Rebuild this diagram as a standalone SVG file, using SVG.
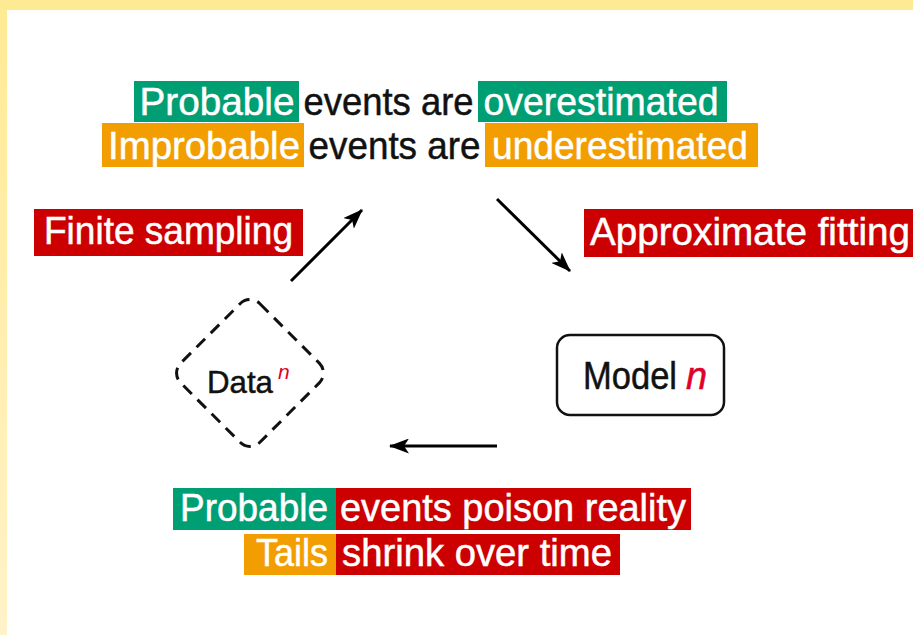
<svg xmlns="http://www.w3.org/2000/svg" width="913" height="635" viewBox="0 0 913 635">
<defs>
<linearGradient id="lb" x1="0" y1="0" x2="0" y2="1">
<stop offset="0" stop-color="#FFEA94"/>
<stop offset="1" stop-color="#FFF3C8"/>
</linearGradient>
<marker id="ah" viewBox="0 0 20 15" refX="19" refY="7.5" markerWidth="20" markerHeight="15" markerUnits="userSpaceOnUse" orient="auto">
<path d="M0,0 L20,7.5 L0,15 L5,7.5 z" fill="#000"/>
</marker>
<style>
.t{font-family:"Liberation Sans",Arial,Helvetica,sans-serif;font-size:39px;stroke-width:0.5}
.s{font-size:38px}
.w{fill:#fff;stroke:#fff}
.k{fill:#111;stroke:#111}
.g{fill:#009E73}
.o{fill:#F29D00}
.r{fill:#CC0000}
.m{text-anchor:middle}
.c{stroke:#000;stroke-width:3;fill:none;marker-end:url(#ah)}
</style>
</defs>
<rect width="913" height="635" fill="#fff"/>
<rect x="0" y="0" width="913" height="10" fill="#FFEA94"/>
<rect x="0" y="0" width="7" height="635" fill="url(#lb)"/>

<g id="top-label">
<rect class="g" x="134" y="81" width="165" height="41"/>
<text class="t w m" x="217" y="115" textLength="155" lengthAdjust="spacingAndGlyphs">Probable</text>
<text class="t k m" x="388.5" y="115" textLength="170" lengthAdjust="spacingAndGlyphs">events are</text>
<rect class="g" x="478" y="81" width="249" height="41"/>
<text class="t w m" x="601" y="115" textLength="235" lengthAdjust="spacingAndGlyphs">overestimated</text>
<rect class="o" x="102" y="123" width="202" height="44"/>
<text class="t w m" x="204" y="159" textLength="192" lengthAdjust="spacingAndGlyphs">Improbable</text>
<text class="t k m" x="394.5" y="159" textLength="172" lengthAdjust="spacingAndGlyphs">events are</text>
<rect class="o" x="485" y="123" width="273" height="44"/>
<text class="t w m" x="620" y="159" textLength="256" lengthAdjust="spacingAndGlyphs">underestimated</text>
</g>

<g id="finite-sampling">
<rect class="r" x="34" y="209" width="269" height="47"/>
<text class="t s w m" x="168.5" y="244" textLength="249" lengthAdjust="spacingAndGlyphs">Finite sampling</text>
</g>

<g id="approximate-fitting">
<rect class="r" x="584" y="209" width="329" height="48"/>
<text class="t s w" x="590" y="245" textLength="320" lengthAdjust="spacingAndGlyphs">Approximate fitting</text>
</g>

<g id="data">
<rect x="-56" y="-56" width="112" height="112" rx="14" transform="translate(250,373) rotate(45)" fill="none" stroke="#111" stroke-width="3" stroke-dasharray="12 8"/>
<text class="t k" x="207" y="393" style="font-size:32px" textLength="66" lengthAdjust="spacingAndGlyphs">Data</text>
<text x="278" y="379" style="font-family:'Liberation Sans',Arial,sans-serif;font-size:21px;font-style:italic;fill:#E0002A">n</text>
</g>

<g id="model">
<rect x="557" y="335" width="167" height="80" rx="13" fill="none" stroke="#111" stroke-width="2.5"/>
<text class="t k" x="583" y="389" style="font-size:38px" textLength="94" lengthAdjust="spacingAndGlyphs">Model</text>
<text x="686" y="389" style="font-family:'Liberation Sans',Arial,sans-serif;font-size:38px;font-style:italic;fill:#E0002A;stroke:#E0002A;stroke-width:0.5">n</text>
</g>

<g id="bottom-label">
<rect class="g" x="173" y="488" width="163" height="42"/>
<text class="t s w m" x="254" y="521" textLength="148" lengthAdjust="spacingAndGlyphs">Probable</text>
<rect class="r" x="336" y="488" width="355" height="42"/>
<text class="t s w m" x="513" y="521" textLength="346" lengthAdjust="spacingAndGlyphs">events poison reality</text>
<rect class="o" x="244" y="534" width="92" height="41"/>
<text class="t s w m" x="292" y="566" textLength="72" lengthAdjust="spacingAndGlyphs">Tails</text>
<rect class="r" x="336" y="534" width="284" height="41"/>
<text class="t s w m" x="477" y="566" textLength="270" lengthAdjust="spacingAndGlyphs">shrink over time</text>
</g>

<g id="connectors">
<line class="c" x1="291" y1="281" x2="362" y2="210"/>
<line class="c" x1="497" y1="199" x2="570" y2="271"/>
<line class="c" x1="497" y1="446" x2="390" y2="446"/>
</g>
</svg>
